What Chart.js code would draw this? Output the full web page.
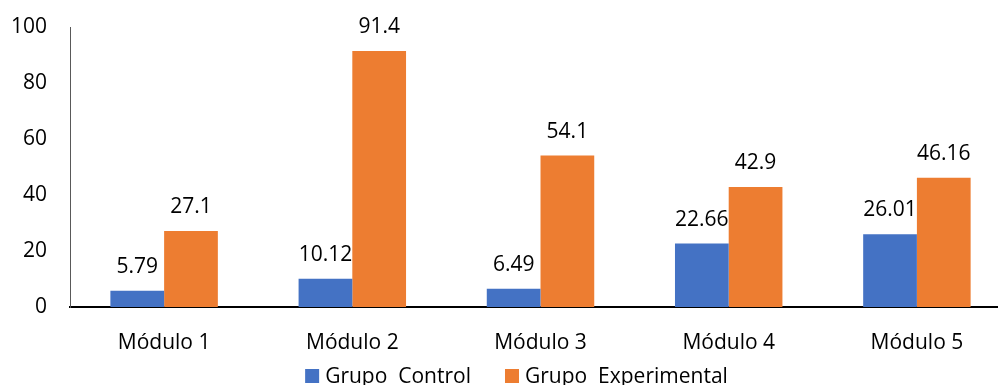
<!DOCTYPE html>
<html>
<head>
<meta charset="utf-8">
<script src="https://cdn.jsdelivr.net/npm/chart.js@4/dist/chart.umd.min.js"></script>
<style>
  html, body { margin: 0; padding: 0; background: #fff; overflow: hidden; }
  #wrap { width: 1033px; height: 385px; }
</style>
</head>
<body>
<div id="wrap"><canvas id="chart"></canvas></div>
<script>
const categories = ['Módulo 1', 'Módulo 2', 'Módulo 3', 'Módulo 4', 'Módulo 5'];
const grupoControl = [5.79, 10.12, 6.49, 22.66, 26.01];
const grupoExperimental = [27.1, 91.4, 54.1, 42.9, 46.16];
const yTicks = [0, 20, 40, 60, 80, 100];

const FONT = "'Open Sans', 'Liberation Sans', sans-serif";
const FONT_SIZE = 21;

// Value labels centred above each bar
const valueLabels = {
  id: 'valueLabels',
  afterDatasetsDraw(chart) {
    const ctx = chart.ctx;
    ctx.save();
    ctx.font = FONT_SIZE + 'px ' + FONT;
    ctx.fillStyle = '#000';
    ctx.textAlign = 'center';
    ctx.textBaseline = 'alphabetic';
    chart.data.datasets.forEach((ds, i) => {
      chart.getDatasetMeta(i).data.forEach((bar, j) => {
        ctx.fillText(String(ds.data[j]), bar.x, bar.y - 18);
      });
    });
    ctx.restore();
  }
};

// Legend row under the axis labels: square swatch + series name
const bottomLegend = {
  id: 'bottomLegend',
  afterDraw(chart) {
    const ctx = chart.ctx;
    const box = 14, gapText = 6, gapItem = 34;
    const baseline = chart.height - 2;
    ctx.save();
    ctx.font = FONT_SIZE + 'px ' + FONT;
    ctx.textBaseline = 'alphabetic';
    ctx.textAlign = 'left';
    const items = chart.data.datasets.map(ds => ({
      text: ds.label, color: ds.backgroundColor, w: ctx.measureText(ds.label).width
    }));
    const total = items.reduce((s, it) => s + box + gapText + it.w, 0) + gapItem * (items.length - 1);
    let x = chart.width / 2 - total / 2;
    items.forEach(it => {
      ctx.fillStyle = it.color;
      ctx.fillRect(x, baseline - box, box, box);
      x += box + gapText;
      ctx.fillStyle = '#000';
      ctx.fillText(it.text, x, baseline);
      x += it.w + gapItem;
    });
    ctx.restore();
  }
};

new Chart(document.getElementById('chart'), {
  type: 'bar',
  data: {
    labels: categories,
    datasets: [
      { label: 'Grupo  Control', data: grupoControl, backgroundColor: '#4472C4' },
      { label: 'Grupo  Experimental', data: grupoExperimental, backgroundColor: '#ED7D31' }
    ]
  },
  options: {
    responsive: true,
    maintainAspectRatio: false,
    animation: false,
    layout: { padding: { left: -12, right: 22, top: 27, bottom: 28 } },
    datasets: { bar: { categoryPercentage: 0.571, barPercentage: 1.0 } },
    scales: {
      x: {
        grid: { display: false, drawTicks: false },
        border: { display: true, color: '#000', width: 2 },
        ticks: { color: '#000', font: { family: FONT, size: FONT_SIZE }, padding: 23 },
        afterFit(axis) { axis.height = 50; axis.paddingLeft = 0; axis.paddingRight = 0; }
      },
      y: {
        min: 0, max: 100,
        afterBuildTicks(axis) { axis.ticks = yTicks.map(v => ({ value: v })); },
        grid: { display: false, drawTicks: false },
        border: { display: true, color: '#595959', width: 1 },
        ticks: { color: '#000', font: { family: FONT, size: FONT_SIZE }, padding: 23 },
        afterFit(axis) { axis.paddingTop = 0; axis.paddingBottom = 0; }
      }
    },
    plugins: {
      legend: { display: false },
      tooltip: { enabled: false }
    }
  },
  plugins: [valueLabels, bottomLegend]
});
</script>
</body>
</html>
